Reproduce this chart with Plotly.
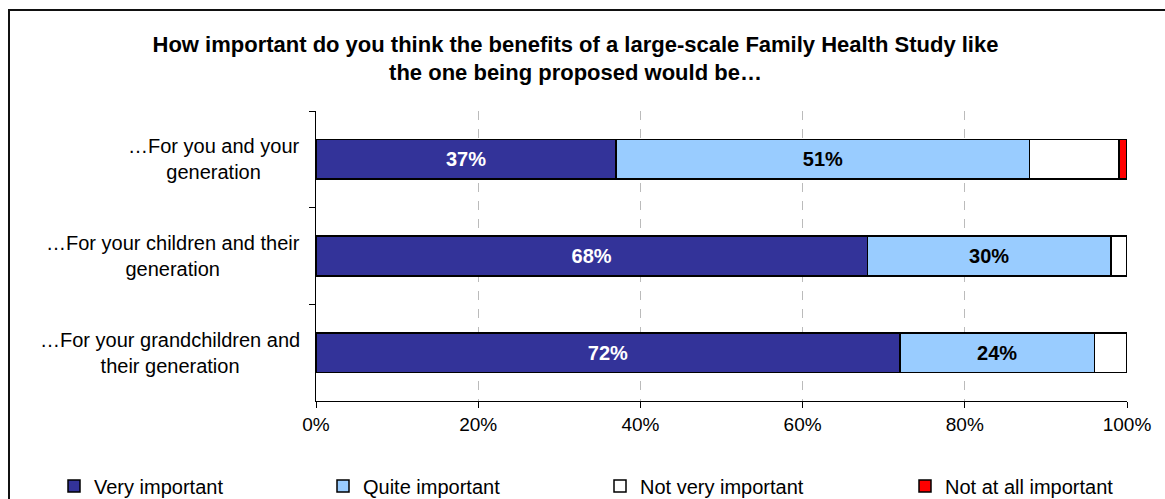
import plotly.graph_objects as go

categories = ["…For you and your<br>generation",
              "…For your children and their<br>generation",
              "…For your grandchildren and<br>their generation"]
series_names = ["Very important", "Quite important", "Not very important", "Not at all important"]
very_important = [37, 68, 72]
quite_important = [51, 30, 24]
not_very_important = [11, 2, 4]
not_at_all_important = [1, 0, 0]

values = [very_important, quite_important, not_very_important, not_at_all_important]
colors = ["#333399", "#99CCFF", "#FFFFFF", "#FF0000"]
label_colors = ["white", "black", None, None]
legend_ids = ["legend", "legend2", "legend3", "legend4"]

FONT = "Liberation Sans, Arial, sans-serif"

fig = go.Figure()
for name, vals, col, lc, lid in zip(series_names, values, colors, label_colors, legend_ids):
    if lc is not None:
        kw = dict(text=[f"{v}%" for v in vals], textposition="inside",
                  insidetextanchor="middle",
                  textfont=dict(color=lc, size=20, family=FONT, weight="bold"))
    else:
        kw = dict(textposition="none")
    fig.add_trace(go.Bar(
        y=categories, x=vals, name=name, orientation="h",
        marker=dict(color=col, line=dict(color="black", width=1.5)),
        legend=lid, hoverinfo="x+name", **kw))

legend_x_px = [54, 323, 600, 905]
legend_common = dict(yanchor="middle", xanchor="left", yref="container", y=1 - 486 / 499,
                     font=dict(family=FONT, size=20, color="black"),
                     bgcolor="rgba(0,0,0,0)", itemwidth=30, tracegroupgap=0)

def px_to_paper_x(px):
    return (px - 316) / 811

layout_legends = {}
for lid, lxp in zip(legend_ids, legend_x_px):
    layout_legends[lid] = dict(x=px_to_paper_x(lxp), **legend_common)

fig.update_layout(
    width=1165, height=499,
    margin=dict(l=316, r=38, t=111, b=98),
    paper_bgcolor="white", plot_bgcolor="white",
    barmode="stack", bargap=0.59,
    title=dict(text="<b>How important do you think the benefits of a large-scale Family Health Study like<br>the one being proposed would be…</b>",
               x=0.494, xanchor="center", y=0.896, yanchor="top", yref="container",
               font=dict(family=FONT, size=22, color="black")),
    font=dict(family=FONT, size=20, color="black"),
    showlegend=True,
    uniformtext=dict(mode="show", minsize=10),
    **layout_legends,
)

fig.update_xaxes(range=[0, 100], dtick=20, ticksuffix="%", ticks="outside", ticklen=6,
                 tickcolor="black", showline=True, linecolor="black", linewidth=1,
                 showgrid=True, gridcolor="#BBBBBB", griddash="dash", gridwidth=1,
                 zeroline=False, tickfont=dict(family=FONT, size=19, color="black"),
                 fixedrange=True)
fig.update_yaxes(autorange="reversed", showline=True, linecolor="black", linewidth=1,
                 ticks="outside", ticklen=6, tickcolor="black", tickson="boundaries",
                 showticklabels=False, showgrid=False, fixedrange=True)

for cat in categories:
    fig.add_annotation(x=0, xref="paper", xanchor="right", xshift=-14,
                       y=cat, yref="y", yanchor="middle", text=cat, showarrow=False,
                       align="center", font=dict(family=FONT, size=20, color="black"))

# outer chart frame
fig.add_shape(type="rect", xref="paper", yref="paper",
              x0=px_to_paper_x(9), x1=px_to_paper_x(1190),
              y0=-(530 - 401) / 290, y1=1 + (111 - 10) / 290,
              line=dict(color="#111111", width=2), fillcolor="rgba(0,0,0,0)", layer="below")

fig.write_html("out.html")
